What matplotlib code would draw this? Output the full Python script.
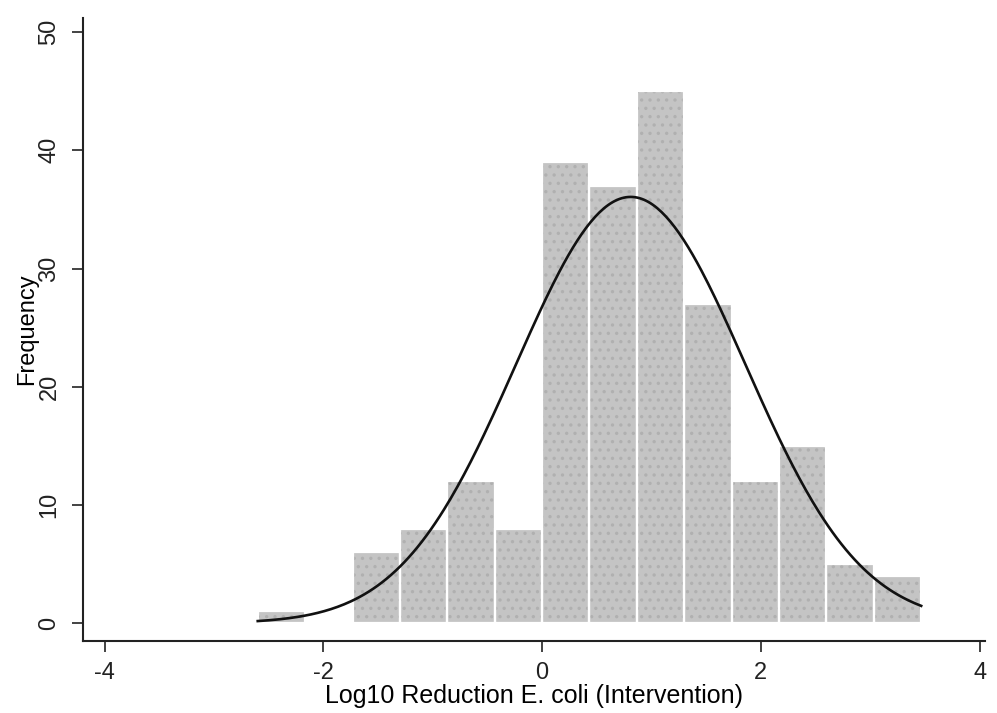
import numpy as np
import matplotlib.pyplot as plt

# histogram bins (Log10 reduction) and counts
bin_start = -2.6
bin_width = 0.4333
counts = [1, 0, 6, 8, 12, 8, 39, 37, 45, 27, 12, 15, 5, 4]

# normal density overlay (fitted mean / sd)
fit_mean = 0.81
fit_sd = 1.05

xticks = [-4, -2, 0, 2, 4]
yticks = [0, 10, 20, 30, 40, 50]

plt.rcParams['font.family'] = ['Liberation Sans', 'DejaVu Sans']
plt.rcParams['hatch.linewidth'] = 1.2

fig = plt.figure(figsize=(9.97, 7.13), dpi=100)
ax = fig.add_axes([0.083, 0.101, 0.905, 0.874])

edges = bin_start + bin_width * np.arange(len(counts) + 1)
# grey bars, light dotted overlay to mimic the stippled print, white borders on top
ax.bar(edges[:-1], counts, width=bin_width, align='edge',
       color='#c4c4c4', linewidth=0)
ax.bar(edges[:-1], counts, width=bin_width, align='edge',
       color='none', edgecolor='#b0b0b0', linewidth=0, hatch='..')
ax.bar(edges[:-1], counts, width=bin_width, align='edge',
       color='none', edgecolor='white', linewidth=1.6)

n = sum(counts)
xs = np.linspace(edges[0], edges[-1], 300)
ys = n * bin_width / (fit_sd * np.sqrt(2 * np.pi)) * np.exp(-0.5 * ((xs - fit_mean) / fit_sd) ** 2)
ax.plot(xs, ys, color='#111111', linewidth=1.9)

ax.set_xlim(-4.2, 4.05)
ax.set_ylim(-1.5, 51.2)
ax.set_xticks(xticks)
ax.set_yticks(yticks)
ax.set_xticklabels([str(t) for t in xticks], fontsize=17)
ax.set_yticklabels([str(t) for t in yticks], fontsize=17, rotation=90, va='center')
ax.tick_params(direction='out', length=8, width=1.2, colors='#222222')
ax.tick_params(axis='x', pad=7)
ax.tick_params(axis='y', pad=8)
for s in ['top', 'right']:
    ax.spines[s].set_visible(False)
for s in ['left', 'bottom']:
    ax.spines[s].set_linewidth(1.5)
    ax.spines[s].set_color('#222222')

ax.set_xlabel("Log10 Reduction E. coli (Intervention)", fontsize=18, labelpad=0)
ax.set_ylabel("Frequency", fontsize=17, labelpad=0)

fig.savefig('out.png', dpi=100)
